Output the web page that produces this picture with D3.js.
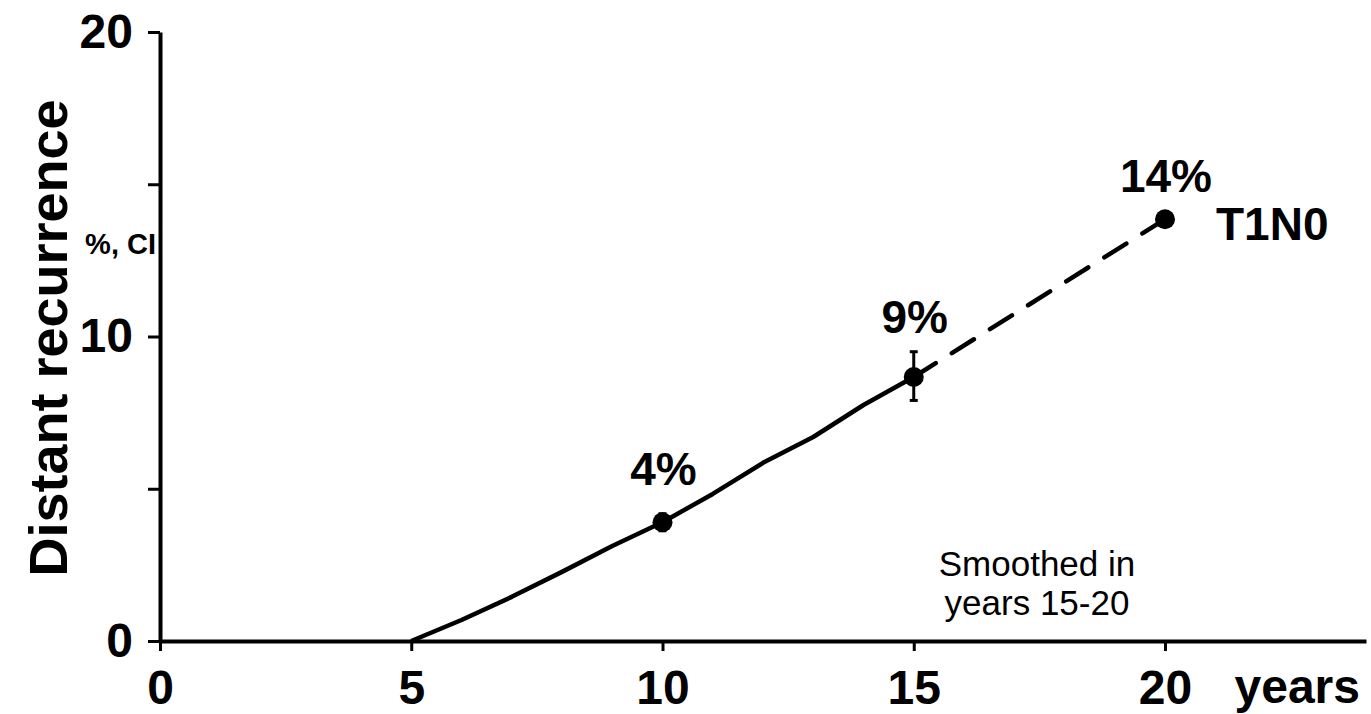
<!DOCTYPE html>
<html>
<head>
<meta charset="utf-8">
<script src="https://cdn.jsdelivr.net/npm/d3@7"></script>
<style>
  body { margin: 0; background: #fff; }
  svg text { font-family: "Liberation Sans", Arial, sans-serif; fill: #000; }
</style>
</head>
<body>
<div id="container"></div>
<script>
// solid part of the curve, years 5-15
const solidYears = [5, 6, 7, 8, 9, 10, 11, 12, 13, 14, 15];
const solidValues = [0, 0.69, 1.45, 2.27, 3.12, 3.9, 4.83, 5.85, 6.7, 7.75, 8.67];

// smoothed part, years 15-20
const dashedYears = [15, 20];
const dashedValues = [8.67, 13.85];

// marked points with CI
const pointYears = [10, 15, 20];
const pointValues = [3.9, 8.67, 13.85];
const ciLow = [3.62, 7.9, 13.85];
const ciHigh = [4.18, 9.5, 13.85];
const pointLabels = ["4%", "9%", "14%"];

const xTicks = [0, 5, 10, 15, 20];
const yTicks = [0, 5, 10, 15, 20];
const yTickLabels = { 0: "0", 5: "", 10: "10", 15: "", 20: "20" };

const w = 1371;
const h = 714;

const svg = d3.select("#container")
  .append("svg")
  .attr("width", w)
  .attr("height", h);

const x = d3.scaleLinear().domain([0, 24]).range([160, 1366]);
const y = d3.scaleLinear().domain([0, 20]).range([641, 32]);

// x axis
const xAxis = d3.axisBottom(x)
  .tickValues(xTicks)
  .tickSize(10)
  .tickSizeOuter(0)
  .tickPadding(19);

const gx = svg.append("g")
  .attr("transform", `translate(0, ${y(0)})`)
  .call(xAxis);
gx.select(".domain").attr("stroke", "#000").attr("stroke-width", 4);
gx.selectAll(".tick line").attr("stroke", "#000").attr("stroke-width", 3);
gx.selectAll(".tick text")
  .attr("font-size", 48)
  .attr("font-weight", "bold")
  .attr("fill", "#000")
  .style("font-family", "'Liberation Sans', Arial, sans-serif");

// y axis
const yAxis = d3.axisLeft(y)
  .tickValues(yTicks)
  .tickSize(12)
  .tickSizeOuter(0)
  .tickPadding(15)
  .tickFormat(d => yTickLabels[d]);

const gy = svg.append("g")
  .attr("transform", `translate(${x(0)}, 0)`)
  .call(yAxis);
gy.select(".domain").attr("stroke", "#000").attr("stroke-width", 4);
gy.selectAll(".tick line").attr("stroke", "#000").attr("stroke-width", 3);
gy.selectAll(".tick text")
  .attr("font-size", 48)
  .attr("font-weight", "bold")
  .attr("fill", "#000")
  .style("font-family", "'Liberation Sans', Arial, sans-serif");

// axis titles
svg.append("text")
  .attr("transform", `translate(67, 338) rotate(-90)`)
  .attr("text-anchor", "middle")
  .attr("font-size", 54)
  .attr("font-weight", "bold")
  .text("Distant recurrence");

svg.append("text")
  .attr("x", 156)
  .attr("y", 254)
  .attr("text-anchor", "end")
  .attr("font-size", 29)
  .attr("font-weight", "bold")
  .text("%, CI");

svg.append("text")
  .attr("x", 1360)
  .attr("y", 703)
  .attr("text-anchor", "end")
  .attr("font-size", 48)
  .attr("font-weight", "bold")
  .text("years");

// lines
const line = d3.line()
  .x(d => x(d[0]))
  .y(d => y(d[1]));

svg.append("path")
  .datum(solidYears.map((yr, i) => [yr, solidValues[i]]))
  .attr("fill", "none")
  .attr("stroke", "#000")
  .attr("stroke-width", 4.5)
  .attr("stroke-linejoin", "round")
  .attr("d", line);

svg.append("path")
  .datum(dashedYears.map((yr, i) => [yr, dashedValues[i]]))
  .attr("fill", "none")
  .attr("stroke", "#000")
  .attr("stroke-width", 4.5)
  .attr("stroke-linecap", "round")
  .attr("stroke-dasharray", "26,19")
  .attr("d", line);

// error bars
const points = pointYears.map((yr, i) => ({
  year: yr, value: pointValues[i], lo: ciLow[i], hi: ciHigh[i], label: pointLabels[i]
}));

const eb = svg.append("g").attr("stroke", "#000").attr("stroke-width", 3);
points.filter(d => d.hi > d.lo).forEach(d => {
  eb.append("line")
    .attr("x1", x(d.year)).attr("x2", x(d.year))
    .attr("y1", y(d.hi)).attr("y2", y(d.lo));
  eb.append("line")
    .attr("x1", x(d.year) - 4).attr("x2", x(d.year) + 4)
    .attr("y1", y(d.hi)).attr("y2", y(d.hi));
  eb.append("line")
    .attr("x1", x(d.year) - 4).attr("x2", x(d.year) + 4)
    .attr("y1", y(d.lo)).attr("y2", y(d.lo));
});

svg.selectAll("circle.pt")
  .data(points)
  .enter()
  .append("circle")
  .attr("class", "pt")
  .attr("cx", d => x(d.year))
  .attr("cy", d => y(d.value))
  .attr("r", 10)
  .attr("fill", "#000");

// label distance above each marker
const labelLift = [37, 44, 27];

svg.selectAll("text.pct")
  .data(points)
  .enter()
  .append("text")
  .attr("class", "pct")
  .attr("x", d => x(d.year) + 1)
  .attr("y", (d, i) => y(d.value) - labelLift[i])
  .attr("text-anchor", "middle")
  .attr("font-size", 46)
  .attr("font-weight", "bold")
  .text(d => d.label);

svg.append("text")
  .attr("x", 1216)
  .attr("y", 240)
  .attr("font-size", 46)
  .attr("font-weight", "bold")
  .text("T1N0");

// note
const note = svg.append("text")
  .attr("text-anchor", "middle")
  .attr("font-size", 35);
note.append("tspan").attr("x", 1037).attr("y", 576).text("Smoothed in");
note.append("tspan").attr("x", 1037).attr("y", 615).text("years 15-20");
</script>
</body>
</html>
